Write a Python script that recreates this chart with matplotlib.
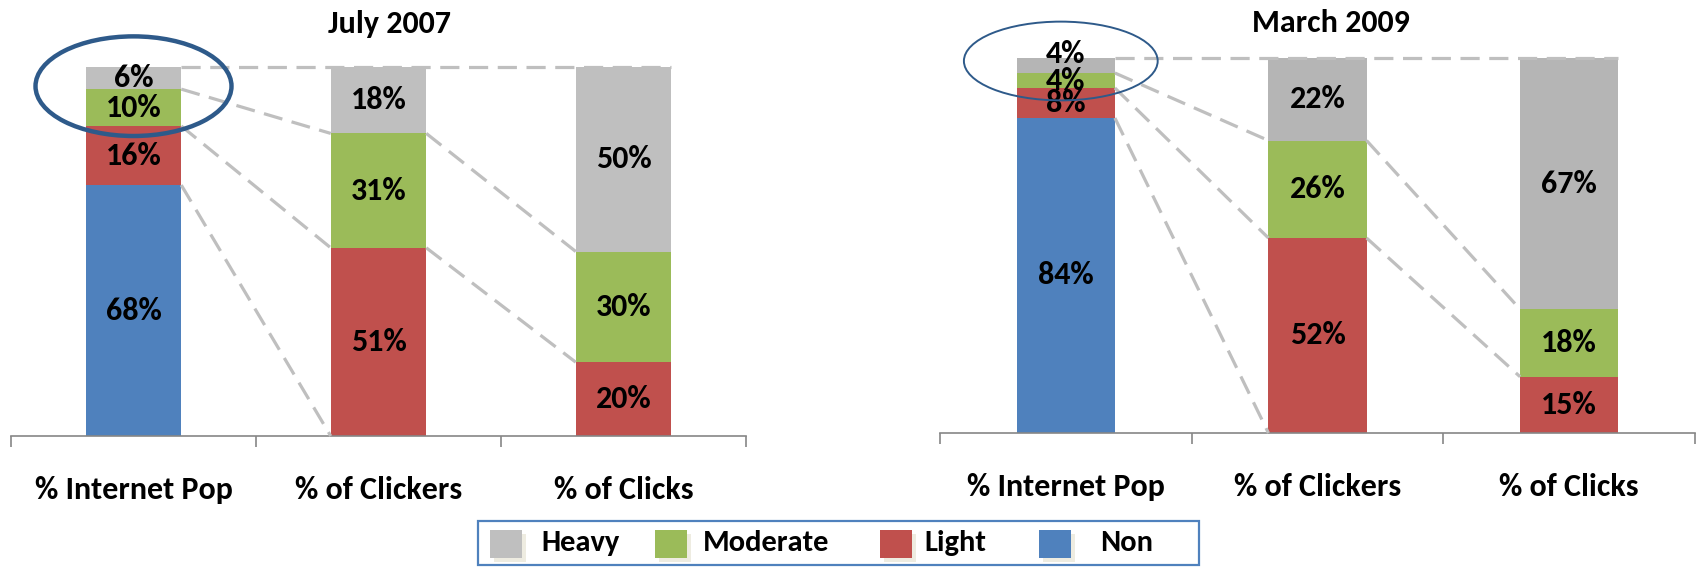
import matplotlib.pyplot as plt
from matplotlib.patches import Ellipse, Rectangle

plt.rcParams['font.family'] = ['Carlito', 'Roboto Condensed', 'Liberation Sans Narrow',
                               'Archivo Narrow', 'DejaVu Sans']
plt.rcParams['font.weight'] = 'bold'

categories = ['% Internet Pop', '% of Clickers', '% of Clicks']
segments = ['Non', 'Light', 'Moderate', 'Heavy']
legend_order = ['Heavy', 'Moderate', 'Light', 'Non']

jul07_non = [68, 0, 0]
jul07_light = [16, 51, 20]
jul07_moderate = [10, 31, 30]
jul07_heavy = [6, 18, 50]

mar09_non = [84, 0, 0]
mar09_light = [8, 52, 15]
mar09_moderate = [4, 26, 18]
mar09_heavy = [4, 22, 67]

colors = {'Non': '#4F81BD', 'Light': '#C0504D', 'Moderate': '#9BBB59', 'Heavy': '#BFBFBF'}
W = 0.39


def panel(ax, series, gray, ell):
    cols = dict(colors, Heavy=gray)
    x = list(range(len(categories)))
    bottom = [0] * len(x)
    tops = []
    for k, (name, vals) in enumerate(zip(segments, series)):
        ax.bar(x, vals, W, bottom=bottom, color=cols[name], zorder=2)
        for i, v in enumerate(vals):
            if v > 0:
                y = bottom[i] + v / 2
                if k == len(segments) - 1 and v < 5:
                    y = bottom[i] + v + 1  # tiny top slice: label sits on the rim
                ax.text(i, y, f'{v}%', ha='center', va='center',
                        fontsize=23, fontweight='bold', zorder=6)
        bottom = [b + v for b, v in zip(bottom, vals)]
        tops.append(list(bottom))
    # connector lines between bars
    dash = dict(color='#BFBFBF', lw=2.3, ls=(0, (6, 3)), zorder=4, clip_on=False)
    for i in range(len(x) - 1):
        for lvl in tops[:-1]:
            if lvl[i] == 0 and lvl[i + 1] == 0:
                continue
            ax.plot([i + W / 2, i + 1 - W / 2], [lvl[i], lvl[i + 1]], **dash)
    ax.plot([W / 2, x[-1] + W / 2], [100, 100], **dash)
    cx, cy, ew, eh, lw = ell
    ax.add_patch(Ellipse((cx, cy), ew, eh, fill=False, ec='#2E5A8A', lw=lw,
                         zorder=7, clip_on=False))

    ax.set_xlim(-0.5, len(x) - 0.5)
    ax.set_ylim(0, 100)
    for s in ['top', 'left', 'right']:
        ax.spines[s].set_visible(False)
    ax.spines['bottom'].set_color('#868686')
    ax.spines['bottom'].set_linewidth(1.2)
    ax.set_yticks([])
    ax.set_xticks(x, categories, fontsize=23, fontweight='bold')
    ax.set_xticks([-0.5, 0.5, 1.5, 2.5], minor=True)
    ax.tick_params(axis='x', which='major', length=0, pad=29)
    ax.tick_params(axis='x', which='minor', length=8, width=1.2, color='#868686')


fig = plt.figure(figsize=(17.01, 5.67), dpi=100)
ax1 = fig.add_axes([11 / 1701, 131 / 567, 735 / 1701, 369 / 567])
ax2 = fig.add_axes([940 / 1701, 134 / 567, 755 / 1701, 375 / 567])

panel(ax1, [jul07_non, jul07_light, jul07_moderate, jul07_heavy], '#BFBFBF',
      (0.0, 94.8, 0.8, 27, 3.2))
panel(ax2, [mar09_non, mar09_light, mar09_moderate, mar09_heavy], '#B5B5B5',
      (-0.02, 99.2, 0.77, 21, 1.4))

fig.text(389 / 1701, 1 - 24 / 567, 'July 2007', ha='center', va='center',
         fontsize=23, fontweight='bold')
fig.text(1331 / 1701, 1 - 23 / 567, 'March 2009', ha='center', va='center',
         fontsize=23, fontweight='bold')

# legend box
fig.patches.append(Rectangle((478 / 1701, 2 / 567), 721 / 1701, 44 / 567,
                             transform=fig.transFigure, fill=False,
                             ec='#4F81BD', lw=1.6))
sq_x = [490, 655, 880, 1039]
tx_x = [541, 703, 924, 1100]
for name, sx, tx in zip(legend_order, sq_x, tx_x):
    fig.patches.append(Rectangle(((sx + 4) / 1701, (567 - 562) / 567), 32 / 1701, 28 / 567,
                                 transform=fig.transFigure, color='#EEECE1', lw=0))
    fig.patches.append(Rectangle((sx / 1701, (567 - 558) / 567), 32 / 1701, 28 / 567,
                                 transform=fig.transFigure, color=colors[name], lw=0))
    fig.text(tx / 1701, 1 - 543 / 567, name, ha='left', va='center',
             fontsize=22, fontweight='bold')

plt.savefig('out.png', dpi=100)
